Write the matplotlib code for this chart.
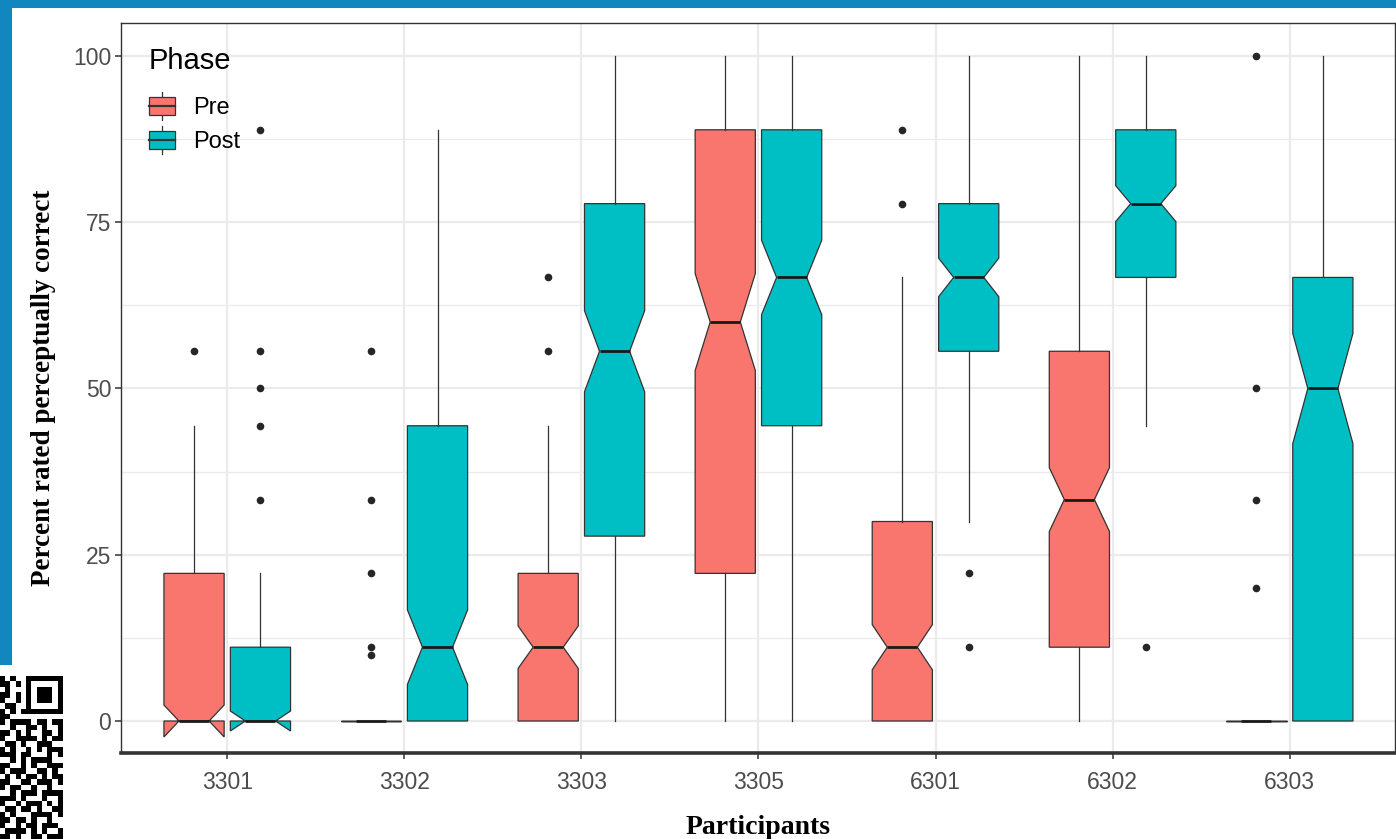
import numpy as np
import matplotlib
matplotlib.use("Agg")
import matplotlib.pyplot as plt
from matplotlib.patches import Patch, Rectangle
from matplotlib.lines import Line2D
from matplotlib.legend_handler import HandlerBase

plt.rcParams["font.family"] = ["Liberation Sans", "DejaVu Sans"]

# --- data ------------------------------------------------------------------
participants = ["3301", "3302", "3303", "3305", "6301", "6302", "6303"]
phases = ["Pre", "Post"]
phase_colors = {"Pre": "#F8766D", "Post": "#00BFC4"}

pre_q1 = [0, 0, 0, 22.2, 0, 11.1, 0]
pre_med = [0, 0, 11.1, 60.0, 11.1, 33.3, 0]
pre_q3 = [22.2, 0, 22.2, 88.9, 30.0, 55.6, 0]
pre_whislo = [0, 0, 0, 0, 0, 0, 0]
pre_whishi = [44.4, 0, 44.4, 100, 66.7, 100, 0]
pre_notch = [2.4, 0, 3.2, 7.3, 3.4, 4.8, 0]
pre_fliers = [[55.6], [55.6, 33.3, 22.2, 11.1, 10.0], [55.6, 66.7], [],
              [77.8, 88.9], [], [100, 50.0, 33.3, 20.0]]

post_q1 = [0, 0, 27.8, 44.4, 55.6, 66.7, 0]
post_med = [0, 11.1, 55.6, 66.7, 66.7, 77.8, 50.0]
post_q3 = [11.1, 44.4, 77.8, 88.9, 77.8, 88.9, 66.7]
post_whislo = [0, 0, 0, 0, 30.0, 44.4, 0]
post_whishi = [22.2, 88.9, 100, 100, 100, 100, 100]
post_notch = [1.5, 5.6, 6.1, 5.6, 2.9, 2.7, 8.3]
post_fliers = [[33.3, 44.4, 50.0, 55.6, 88.9], [], [], [], [22.2, 11.1], [11.1], []]

# decoration: the QR code cropped in the lower-left corner of the screenshot
qr_rows = [
    "#.#..#######", "##.#.#.....#", ".#...#.###.#", "##.#.#.###.#",
    "#..#.#.###.#", ".##..#.....#", "#.#.########", "##..........",
    "#.####.##.##", "..#..##.#..#", "##.#.#..##.#", "#..####.#.##",
    ".##.#..###..", "#.#..#.#.###", "###.##...#.#", "..#.#.####..",
    "##..#.#..###", "#.###..##.#.", ".#.#.##.#.##", "##..##.###.#",
    "#.##..#..#..", "..#.###.####", "###.#...#..#", "#..#.###.#.#",
    ".##.##.#..##", "#.#...####.#", "##.##.#..#..", "#..#.##.###.",
    ".####.#.#..#", "##.#..##.###",
]


def make_stats(q1, med, q3, wlo, whi, notch, fliers):
    out = []
    for i in range(len(med)):
        out.append(dict(q1=q1[i], med=med[i], q3=q3[i], whislo=wlo[i],
                        whishi=whi[i], cilo=med[i] - notch[i],
                        cihi=med[i] + notch[i], fliers=np.array(fliers[i])))
    return out


class BoxKey(HandlerBase):
    """ggplot-style boxplot legend key."""

    def create_artists(self, legend, orig_handle, xdescent, ydescent,
                       width, height, fontsize, trans):
        x0, y0 = -xdescent, -ydescent
        ec = "#333333"
        box = Rectangle((x0, y0), width, height, facecolor=orig_handle.get_facecolor(),
                        edgecolor=ec, lw=0.9, transform=trans)
        xm = x0 + width / 2
        lo = Line2D([xm, xm], [y0 - 0.3 * height, y0], color=ec, lw=0.9, transform=trans)
        hi = Line2D([xm, xm], [y0 + height, y0 + 1.3 * height], color=ec, lw=0.9, transform=trans)
        md = Line2D([x0, x0 + width], [y0 + height / 2] * 2, color=ec, lw=1.6, transform=trans)
        return [lo, hi, box, md]


W, H = 1396, 839
fig = plt.figure(figsize=(W / 100, H / 100), dpi=100)
fig.patch.set_facecolor("white")

# blue screenshot frame
fig.patches.append(Rectangle((0, 1 - 8 / H), 1, 8 / H, transform=fig.transFigure,
                             facecolor="#1186BF", edgecolor="none"))
fig.patches.append(Rectangle((0, 1 - 665 / H), 12 / W, 665 / H, transform=fig.transFigure,
                             facecolor="#1186BF", edgecolor="none"))

ax = fig.add_axes([121 / W, (H - 753) / H, (1395 - 121) / W, (753 - 23) / H])

x = np.arange(1, len(participants) + 1)
offset = 0.1875
width = 0.34
series = {
    "Pre": make_stats(pre_q1, pre_med, pre_q3, pre_whislo, pre_whishi, pre_notch, pre_fliers),
    "Post": make_stats(post_q1, post_med, post_q3, post_whislo, post_whishi, post_notch, post_fliers),
}
ec = "#333333"
for k, ph in enumerate(phases):
    pos = x + (-offset if k == 0 else offset)
    ax.bxp(series[ph], positions=pos, widths=width, shownotches=True,
           showcaps=False, patch_artist=True, manage_ticks=False,
           boxprops=dict(facecolor=phase_colors[ph], edgecolor=ec, linewidth=0.9),
           medianprops=dict(color="#1a1a1a", linewidth=2.0),
           whiskerprops=dict(color=ec, linewidth=0.9),
           flierprops=dict(marker="o", markersize=5.5, markerfacecolor="#262626",
                           markeredgecolor="none"),
           zorder=3)

ax.set_xlim(0.4, 7.595)
ax.set_ylim(-4.81, 104.96)
ax.set_xticks(x)
ax.set_xticklabels(participants)
ax.set_yticks([0, 25, 50, 75, 100])
ax.set_yticks([12.5, 37.5, 62.5, 87.5], minor=True)
ax.tick_params(axis="both", which="major", labelsize=16.5, labelcolor="#4D4D4D",
               color="#333333", length=4, width=1.1, pad=3)
ax.tick_params(axis="x", which="major", pad=9)
ax.tick_params(axis="y", which="minor", length=0)
ax.grid(True, which="major", color="#EBEBEB", linewidth=1.6, zorder=0)
ax.grid(True, which="minor", axis="y", color="#EBEBEB", linewidth=0.9, zorder=0)
ax.set_axisbelow(True)
for side in ["left", "top", "right"]:
    ax.spines[side].set_color("#333333")
    ax.spines[side].set_linewidth(1.0)
ax.spines["bottom"].set_color("#333333")
ax.spines["bottom"].set_linewidth(2.6)

serif = ["Liberation Serif", "DejaVu Serif"]
ax.set_xlabel("Participants", family=serif, fontweight="bold", fontsize=20, labelpad=15)
ax.set_ylabel("Percent rated perceptually correct", family=serif, fontweight="bold",
              fontsize=19.5, labelpad=12)

handles = [Patch(facecolor=phase_colors[p], edgecolor=ec) for p in phases]
leg = ax.legend(handles, phases, title="Phase", loc="upper left",
                bbox_to_anchor=(0.022, 0.967), frameon=False, fontsize=17,
                title_fontsize=21, alignment="left", borderpad=0, borderaxespad=0,
                handlelength=1.1, handleheight=0.75, handletextpad=0.75,
                labelspacing=0.5, handler_map={Patch: BoxKey()})
leg._legend_box.sep = 16
leg.set_zorder(5)

# QR code patch in the lower-left corner
qr = np.array([[1 if c == "#" else 0 for c in row] for row in qr_rows])
qax = fig.add_axes([0, 0, 63 / W, 163 / H])
qax.imshow(qr, cmap="gray_r", aspect="auto", interpolation="nearest")
qax.axis("off")

fig.savefig("out.png", dpi=100)
